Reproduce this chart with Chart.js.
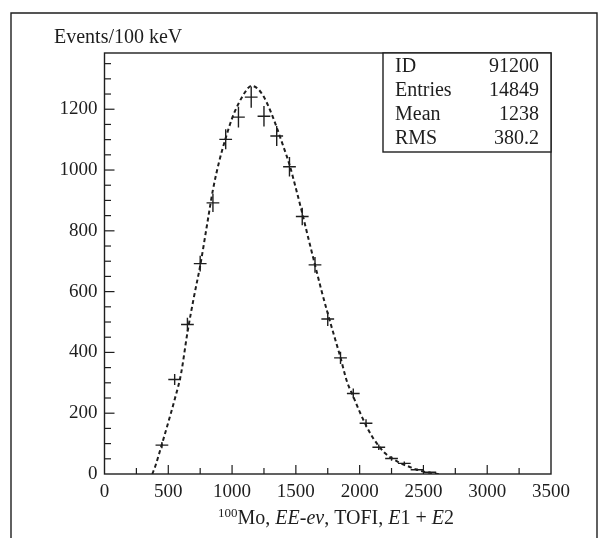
<!DOCTYPE html>
<html>
<head>
<meta charset="utf-8">
<script src="https://cdn.jsdelivr.net/npm/chart.js@4/dist/chart.umd.min.js"></script>
<style>
  html, body { margin: 0; padding: 0; background: #fff; }
  #wrap { width: 601px; height: 538px; position: relative; }
</style>
</head>
<body>
<div id="wrap"><canvas id="specChart" width="601" height="538"></canvas></div>
<script>
// 히스토그램 데이터 (100 keV 빈)
const binCenters = [450, 550, 650, 750, 850, 950, 1050, 1150, 1250, 1350, 1450,
                    1550, 1650, 1750, 1850, 1950, 2050, 2150, 2250, 2350, 2450, 2550];
const counts = [95, 311, 492, 692, 892, 1101, 1174, 1240, 1177, 1112, 1011,
                847, 688, 510, 382, 265, 167, 88, 51, 35, 14, 6];
const countErrors = [10, 18, 22, 26, 30, 33, 34, 35, 34, 33, 32,
                     29, 26, 23, 20, 16, 13, 9, 7, 6, 4, 2];
const binHalfWidth = 50;

// 피팅 곡선 (점선)
const fitX = [375, 400, 450, 500, 550, 600, 650, 700, 750, 800, 850, 900, 950, 1000,
              1050, 1100, 1150, 1200, 1250, 1300, 1350, 1400, 1450, 1500, 1550, 1600,
              1650, 1700, 1750, 1800, 1850, 1900, 1950, 2000, 2050, 2100, 2150, 2200,
              2250, 2300, 2350, 2400, 2450, 2500, 2550, 2600, 2620];
const fitY = [0, 28, 98, 170, 245, 330, 465, 580, 685, 810, 935, 1030, 1105, 1170,
              1218, 1255, 1277, 1268, 1240, 1195, 1140, 1080, 1018, 940, 858, 772,
              688, 605, 528, 455, 383, 305, 255, 205, 160, 122, 92, 68,
              52, 40, 30, 22, 14, 8, 4, 1, 0];

// 축 눈금
const xTicks = [0, 500, 1000, 1500, 2000, 2500, 3000, 3500];
const yTicks = [0, 200, 400, 600, 800, 1000, 1200];
const xMax = 3500;
const yMax = 1385;

// 통계 박스
const statNames = ['ID', 'Entries', 'Mean', 'RMS'];
const statValues = ['91200', '14849', '1238', '380.2'];

const serif = '"Liberation Serif", "Times New Roman", serif';
const ink = '#1e1e1e';

// 에러바 십자 (null 로 선 끊기)
const hBars = [];
const vBars = [];
binCenters.forEach((c, i) => {
    hBars.push({ x: c - binHalfWidth, y: counts[i] }, { x: c + binHalfWidth, y: counts[i] }, { x: c, y: null });
    vBars.push({ x: c, y: counts[i] - countErrors[i] }, { x: c, y: counts[i] + countErrors[i] }, { x: c, y: null });
});
const fitPts = fitX.map((x, i) => ({ x: x, y: fitY[i] }));

// 프레임, 안쪽 눈금, 제목, 통계 박스
const decorPlugin = {
    id: 'decor',
    afterDraw(chart) {
        const ctx = chart.ctx;
        const a = chart.chartArea;
        const xs = chart.scales.x, ys = chart.scales.y;
        ctx.save();
        ctx.strokeStyle = ink;
        ctx.lineWidth = 1.4;

        // 바깥 프레임 (아래쪽은 잘림)
        ctx.beginPath();
        ctx.moveTo(11, 540); ctx.lineTo(11, 13); ctx.lineTo(597, 13); ctx.lineTo(597, 540);
        ctx.stroke();

        // 플롯 박스
        ctx.strokeRect(a.left, a.top, a.right - a.left, a.bottom - a.top);

        // x 눈금 (안쪽)
        ctx.lineWidth = 1.2;
        for (let v = 250; v < xMax; v += 250) {
            const px = xs.getPixelForValue(v);
            const len = v % 500 === 0 ? 9 : 6;
            ctx.beginPath(); ctx.moveTo(px, a.bottom); ctx.lineTo(px, a.bottom - len); ctx.stroke();
        }
        // y 눈금 (안쪽)
        for (let v = 50; v < yMax; v += 50) {
            const py = ys.getPixelForValue(v);
            const len = v % 200 === 0 ? 10 : 6.5;
            ctx.beginPath(); ctx.moveTo(a.left, py); ctx.lineTo(a.left + len, py); ctx.stroke();
        }

        // y 축 제목
        ctx.fillStyle = ink;
        ctx.font = '20px ' + serif;
        ctx.textAlign = 'left';
        ctx.textBaseline = 'middle';
        ctx.fillText('Events/100 keV', 54, 38);

        // x 축 제목 (위첨자, 이탤릭 섞임)
        const parts = [
            { t: '100', f: '13px ' + serif, dy: -7 },
            { t: 'Mo, ', f: '20px ' + serif, dy: 0 },
            { t: 'EE-ev', f: 'italic 20px ' + serif, dy: 0 },
            { t: ', TOFI, ', f: '20px ' + serif, dy: 0 },
            { t: 'E', f: 'italic 20px ' + serif, dy: 0 },
            { t: '1 + ', f: '20px ' + serif, dy: 0 },
            { t: 'E', f: 'italic 20px ' + serif, dy: 0 },
            { t: '2', f: '20px ' + serif, dy: 0 }
        ];
        let total = 0;
        parts.forEach(p => { ctx.font = p.f; p.w = ctx.measureText(p.t).width; total += p.w; });
        let cx = 336 - total / 2;
        ctx.textBaseline = 'alphabetic';
        parts.forEach(p => { ctx.font = p.f; ctx.fillText(p.t, cx, 524 + p.dy); cx += p.w; });

        // 통계 박스
        const bx = 383, by = a.top, bw = a.right - 383, bh = 99;
        ctx.fillStyle = '#fff';
        ctx.fillRect(bx, by, bw, bh);
        ctx.lineWidth = 1.4;
        ctx.strokeRect(bx, by, bw, bh);
        ctx.fillStyle = ink;
        ctx.font = '20px ' + serif;
        ctx.textBaseline = 'middle';
        statNames.forEach((n, i) => {
            const ty = by + 14 + i * 24;
            ctx.textAlign = 'left';
            ctx.fillText(n, bx + 12, ty);
            ctx.textAlign = 'right';
            ctx.fillText(statValues[i], bx + bw - 12, ty);
        });
        ctx.restore();
    }
};

const ctx = document.getElementById('specChart').getContext('2d');
new Chart(ctx, {
    type: 'scatter',
    data: {
        datasets: [
            { data: fitPts, showLine: true, borderColor: ink, borderWidth: 2, borderDash: [4, 3],
              pointRadius: 0, cubicInterpolationMode: 'monotone', fill: false },
            { data: hBars, showLine: true, spanGaps: false, borderColor: ink, borderWidth: 1.4, pointRadius: 0 },
            { data: vBars, showLine: true, spanGaps: false, borderColor: ink, borderWidth: 1.4, pointRadius: 0 }
        ]
    },
    options: {
        responsive: false,
        animation: false,
        events: [],
        layout: { padding: { left: 0, top: 53, right: 50, bottom: 0 } },
        plugins: { legend: { display: false }, tooltip: { enabled: false } },
        scales: {
            x: {
                type: 'linear', min: 0, max: xMax,
                afterBuildTicks: s => { s.ticks = xTicks.map(v => ({ value: v })); },
                afterFit: s => { s.height = 64; },
                grid: { display: false, drawTicks: false },
                border: { display: false },
                ticks: { color: ink, font: { family: serif, size: 19 }, padding: 7, maxRotation: 0,
                         callback: v => String(v) }
            },
            y: {
                type: 'linear', min: 0, max: yMax,
                afterBuildTicks: s => { s.ticks = yTicks.map(v => ({ value: v })); },
                afterFit: s => { s.width = 104.5; },
                grid: { display: false, drawTicks: false },
                border: { display: false },
                ticks: { color: ink, font: { family: serif, size: 19 }, padding: 7,
                         callback: v => String(v) }
            }
        }
    },
    plugins: [decorPlugin]
});
</script>
</body>
</html>
